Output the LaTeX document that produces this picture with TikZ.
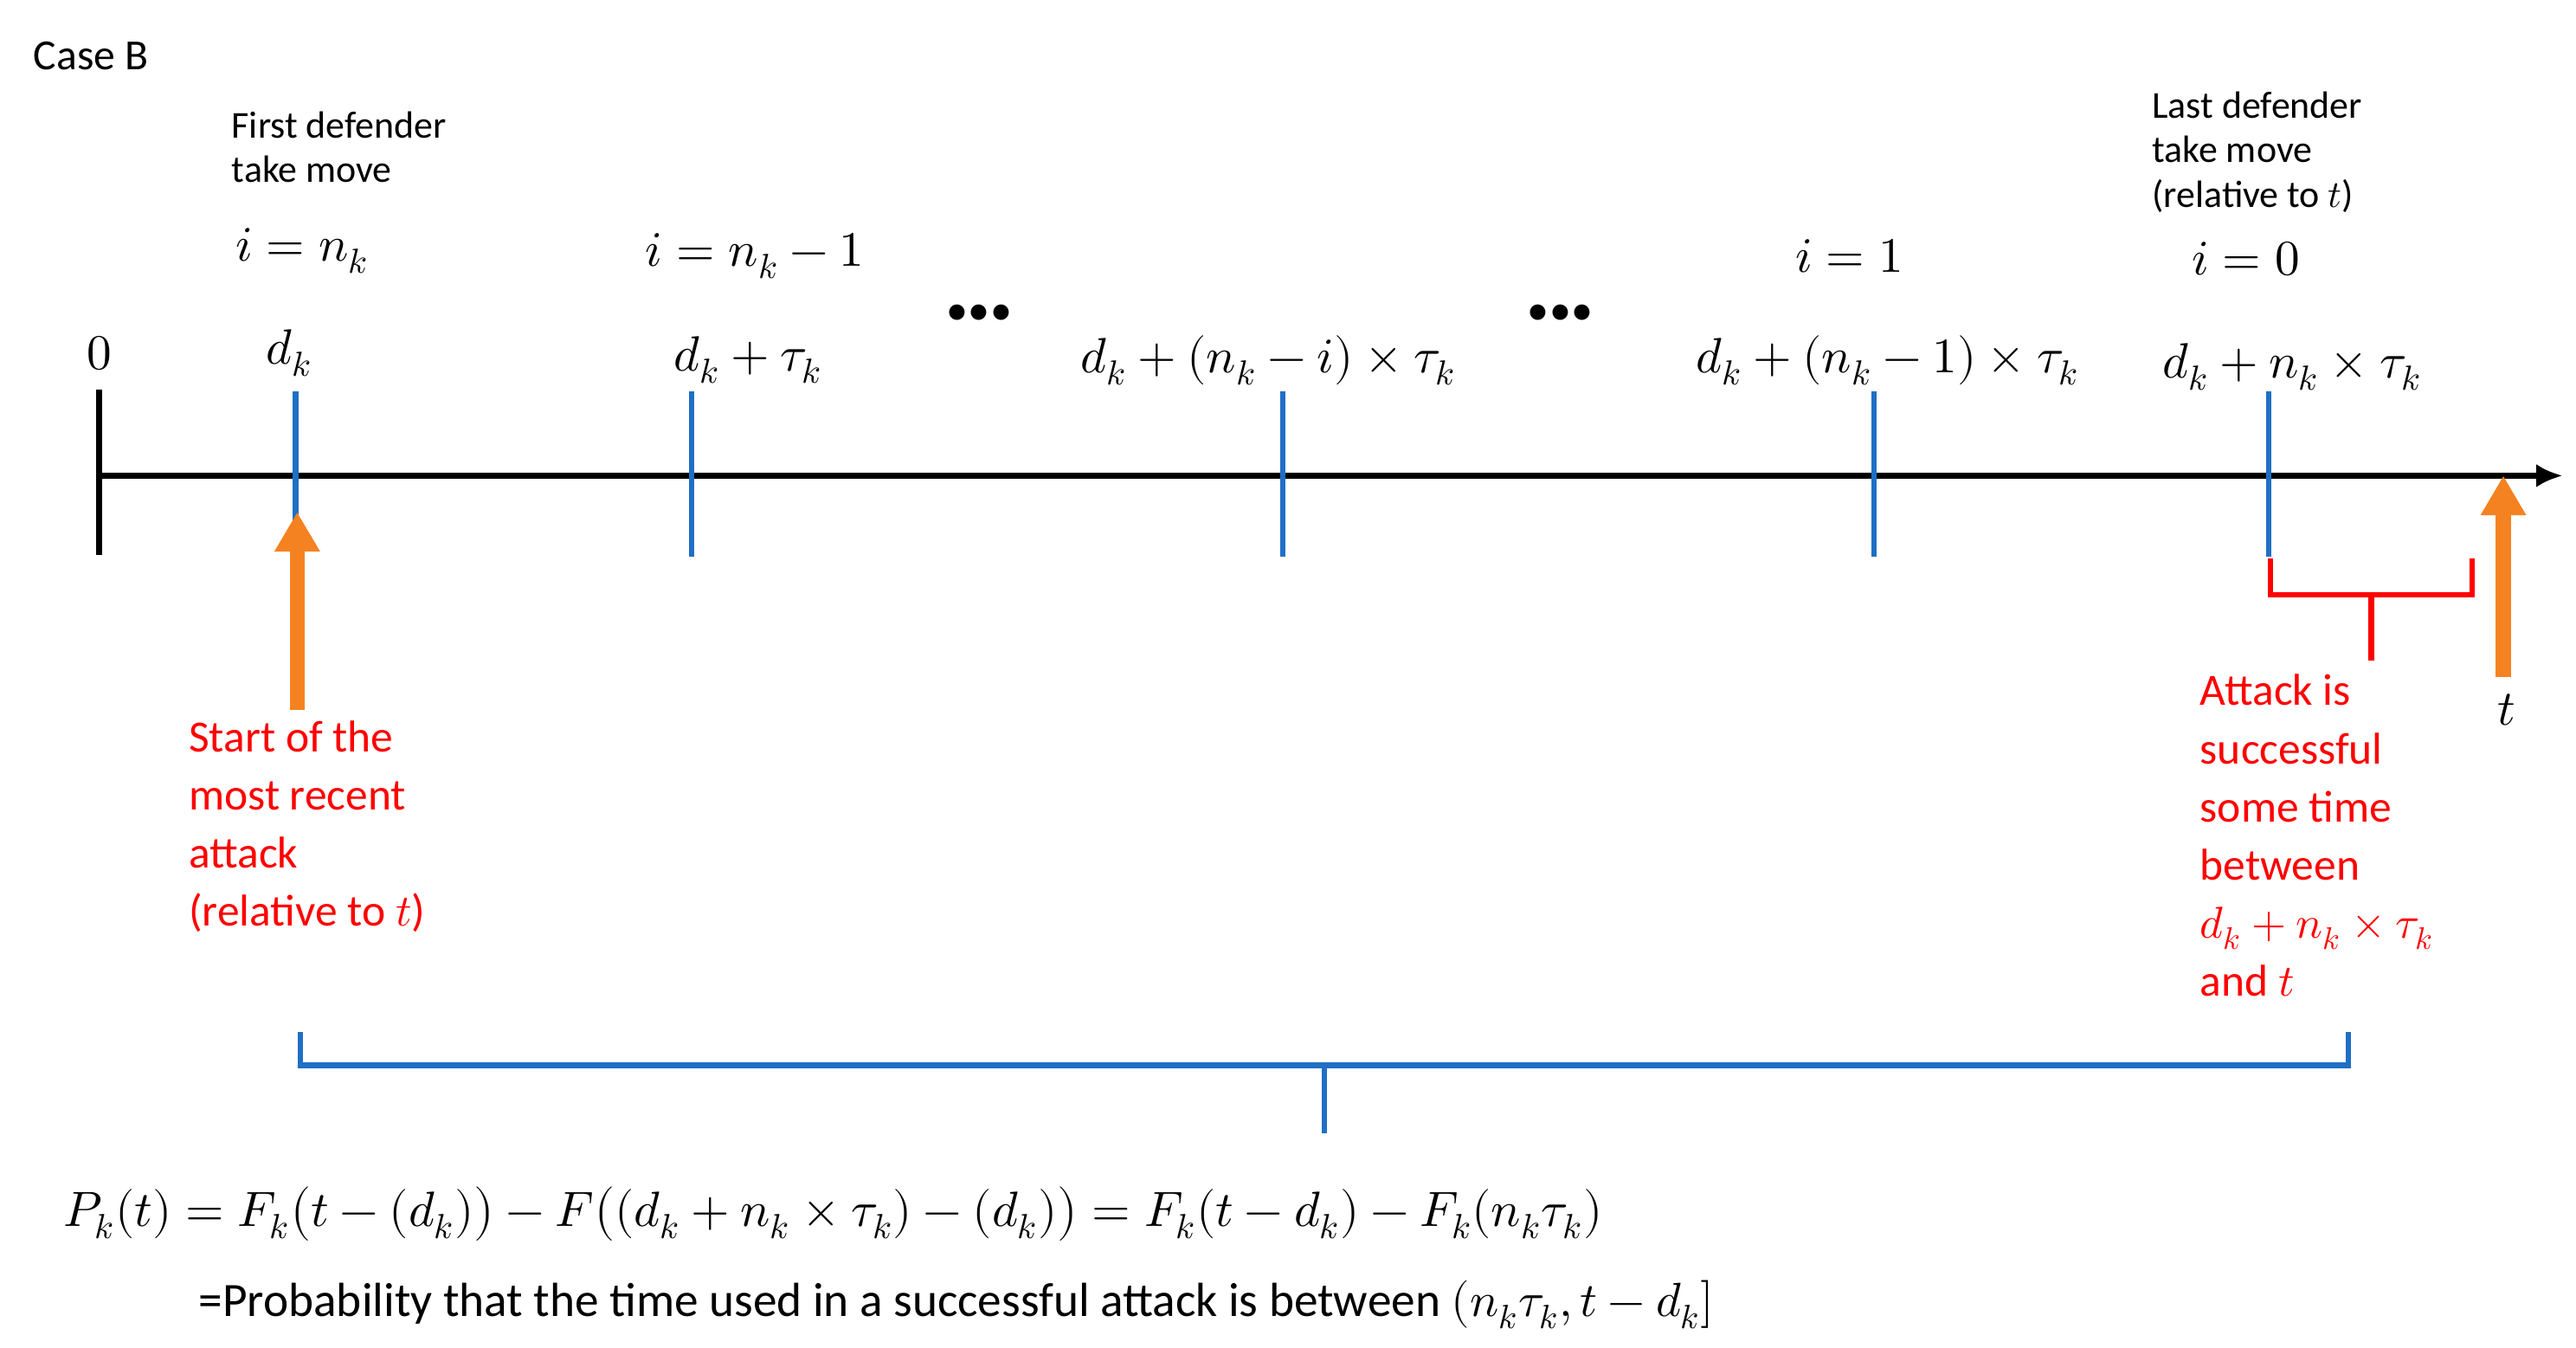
\documentclass[tikz,border=0pt]{standalone}
\usepackage{fontspec}
\setmainfont{Carlito}
\usepackage{unicode-math}
\setmathfont{Latin Modern Math}
\usetikzlibrary{arrows.meta}
\definecolor{tblue}{HTML}{1F6FC5}
\definecolor{torange}{HTML}{F58220}
\tikzset{
  lbl/.style={inner sep=0pt,font=\fontsize{11.5}{13.5}\selectfont},
  mth/.style={inner sep=0pt,font=\fontsize{15}{17}\selectfont},
  redtxt/.style={inner sep=0pt,align=left,anchor=north west,text=red,font=\fontsize{13.5}{17.6}\selectfont},
  tick/.style={draw=tblue,line width=1.6pt},
  orarr/.style={draw=torange,line width=4.5pt,-{Triangle[length=12pt,width=13pt]}},
  dotsn/.style={inner sep=0pt,font=\fontsize{12}{12}\selectfont},
}
\begin{document}
\begin{tikzpicture}[x=0.5pt,y=-0.5pt]
\useasboundingbox (0,0) rectangle (1560,816);
\node[lbl,anchor=west,font=\fontsize{13}{15}\selectfont] (case) at (20,34) {Case B};
% axis
\coordinate (a0) at (60,288);
\coordinate (a1) at (1552,288);
\draw[line width=2pt,-{Latex[length=8pt,width=7pt]}] (a0) -- (a1);
\draw[line width=2pt] (60,236) -- (60,336);
\node[mth] (zero) at (60,214) {$0$};
\foreach \x/\n in {179/t1,419/t2,777/t3,1135/t4,1374/t5}
  \draw[tick] (\x,237) -- (\x,337) coordinate (\n);
\node[mth] (l1) at (175,214) {$d_k$};
\node[mth] (l2) at (453,218) {$d_k+\tau_k$};
\node[mth] (l3) at (768,218) {$d_k+(n_k-i)\times\tau_k$};
\node[mth] (l4) at (1143,218) {$d_k+(n_k-1)\times\tau_k$};
\node[mth] (l5) at (1388,222) {$d_k+n_k\times\tau_k$};
\node[mth] (i1) at (183,152) {$i=n_k$};
\node[mth] (i2) at (457,155) {$i=n_k-1$};
\node[mth] (i3) at (1120,155) {$i=1$};
\node[mth] (i4) at (1360,157) {$i=0$};
\node[dotsn] (dots1) at (593,190) {$\bullet\!\bullet\!\bullet$};
\node[dotsn] (dots2) at (945,190) {$\bullet\!\bullet\!\bullet$};
\node[lbl,align=left,anchor=north west] (fd) at (140,67) {First defender\\take move};
\node[lbl,align=left,anchor=north west] (ld) at (1303,55) {Last defender\\take move\\(relative to $t$)};
% orange arrows
\coordinate (o1s) at (180,430);
\coordinate (o1e) at (180,310);
\draw[orarr] (o1s) -- (o1e);
\coordinate (o2s) at (1516,410);
\coordinate (o2e) at (1516,288);
\draw[orarr] (o2s) -- (o2e);
\node[mth] (t) at (1518,430) {$t$};
% red bracket
\draw[red,line width=1.6pt] (1375,338) -- (1375,360) -- (1497,360) -- (1497,338);
\draw[red,line width=1.6pt] (1436,360) -- (1436,400);
\node[redtxt] (att) at (1332,408) {Attack is\\successful\\some time\\between\\$d_k+n_k\times\tau_k$\\ and $t$};
\node[redtxt] (start) at (114,436) {Start of the\\most recent\\attack\\(relative to $t$)};
% blue brace
\draw[tblue,line width=1.6pt] (182,625) -- (182,645) -- (1422,645) -- (1422,625);
\draw[tblue,line width=1.6pt] (802,645) -- (802,686);
\node[mth,anchor=west] (f) at (38,735) {$P_k(t)=F_k\big(t-(d_k)\big)-F\big((d_k+n_k\times\tau_k)-(d_k)\big)=F_k(t-d_k)-F_k(n_k\tau_k)$};
\node[lbl,anchor=west,font=\fontsize{14.5}{16}\selectfont] (prob) at (120,790) {=Probability that the time used in a successful attack is between $(n_k\tau_k,t-d_k]$};
\end{tikzpicture}
\end{document}
